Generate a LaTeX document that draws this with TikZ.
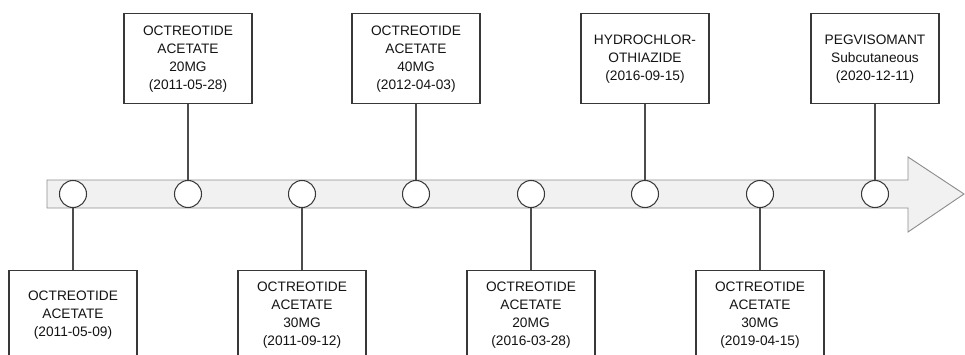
\documentclass[tikz,border=0pt]{standalone}
\usepackage{fontspec}
\setmainfont{Liberation Sans}
\usetikzlibrary{positioning}
\definecolor{tlLine}{HTML}{383838}
\definecolor{tlBand}{HTML}{F1F1F1}
\definecolor{tlBandEdge}{HTML}{8E8E8E}
\tikzset{
  event/.style={draw=tlLine, fill=white, line width=0.9pt,
        minimum width=3.84cm, minimum height=2.7cm, align=center,
        font=\fontsize{11.7}{15.4}\selectfont, text=black!92, inner sep=2pt},
  tick/.style={circle, draw=tlLine, fill=white, line width=0.9pt,
        minimum size=0.81cm, inner sep=0pt},
  stem/.style={draw=tlLine!90, line width=0.9pt}
}

\begin{document}
\begin{tikzpicture}[x=0.3mm, y=0.3mm]
\useasboundingbox (0,0) rectangle (965,354);
\clip (0,0) rectangle (965,354);
% time band
\draw[fill=tlBand, draw=tlBandEdge, line width=0.8pt]
  (47,174) -- (908,174) -- (908,197) -- (964,160) -- (908,122)
  -- (908,146) -- (47,146) -- cycle;
\foreach \i/\x in {1/73, 2/188, 3/302, 4/416, 5/531, 6/645, 7/760, 8/875}
  \node[tick] (c\i) at (\x,160) {};

% above the band
\node[event, above=2.27cm of c2] (e2) {OCTREOTIDE\\ACETATE\\20MG\\(2011-05-28)};
\node[event, above=2.27cm of c4] (e4) {OCTREOTIDE\\ACETATE\\40MG\\(2012-04-03)};
\node[event, above=2.27cm of c6] (e6) {HYDROCHLOR-\\OTHIAZIDE\\(2016-09-15)};
\node[event, above=2.27cm of c8] (e8) {PEGVISOMANT\\Subcutaneous\\(2020-12-11)};
% below the band
\node[event, below=1.85cm of c1] (e1) {OCTREOTIDE\\ACETATE\\(2011-05-09)};
\node[event, below=1.85cm of c3] (e3) {OCTREOTIDE\\ACETATE\\30MG\\(2011-09-12)};
\node[event, below=1.85cm of c5] (e5) {OCTREOTIDE\\ACETATE\\20MG\\(2016-03-28)};
\node[event, below=1.85cm of c7] (e7) {OCTREOTIDE\\ACETATE\\30MG\\(2019-04-15)};

\foreach \i in {2,4,6,8}
  \draw[stem] (e\i) -- (c\i);
\foreach \i in {1,3,5,7}
  \draw[stem] (c\i) -- (e\i);
\end{tikzpicture}
\end{document}
